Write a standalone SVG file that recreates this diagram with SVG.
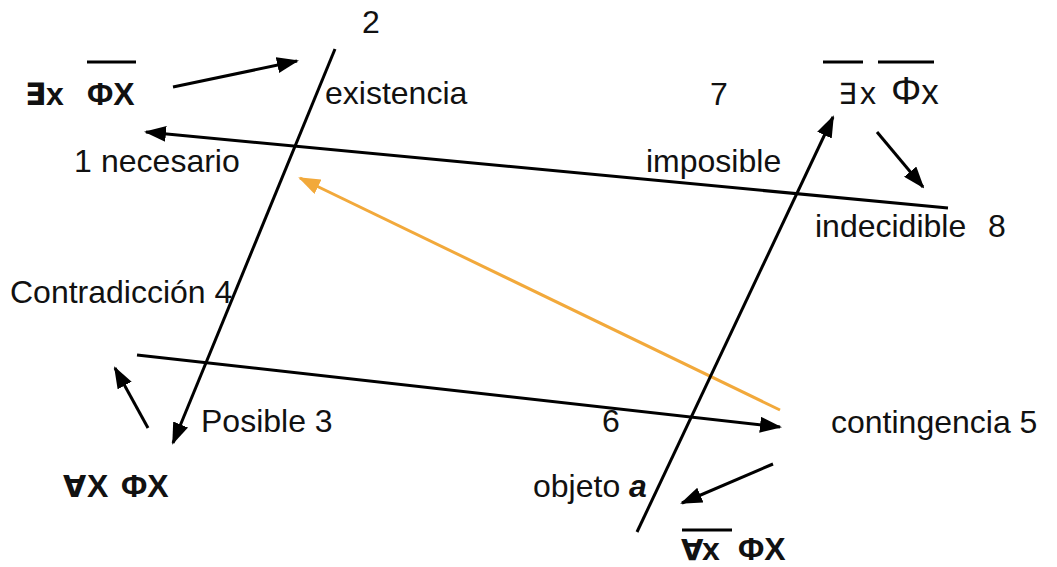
<svg xmlns="http://www.w3.org/2000/svg" width="1057" height="567" viewBox="0 0 1057 567">
<style>
text{font-family:"Liberation Sans",Arial,"DejaVu Sans",sans-serif;font-size:32px;fill:#111}
.b{font-weight:bold}
.ln{stroke:#000;stroke-width:3;fill:none}
.or{stroke:#F2A93B;stroke-width:3;fill:none}
.ov{stroke:#000;stroke-width:3}
</style>
<defs>
<marker id="ah" markerUnits="userSpaceOnUse" markerWidth="22" markerHeight="16" refX="20" refY="8" orient="auto">
<path d="M0,0 L22,8 L0,16 Z" fill="#000"/>
</marker>
<marker id="aho" markerUnits="userSpaceOnUse" markerWidth="22" markerHeight="16" refX="20" refY="8" orient="auto">
<path d="M0,0 L22,8 L0,16 Z" fill="#F2A93B"/>
</marker>
</defs>
<rect width="1057" height="567" fill="#fff"/>
<g id="connectors">
<line class="ln" x1="335" y1="49" x2="173" y2="443" marker-end="url(#ah)"/>
<line class="ln" x1="173" y1="87" x2="297" y2="61" marker-end="url(#ah)"/>
<line class="ln" x1="948" y1="208" x2="146" y2="132" marker-end="url(#ah)"/>
<line class="or" x1="780" y1="410" x2="300" y2="178" marker-end="url(#aho)"/>
<line class="ln" x1="137" y1="355" x2="780" y2="427" marker-end="url(#ah)"/>
<line class="ln" x1="637" y1="532" x2="833" y2="117" marker-end="url(#ah)"/>
<line class="ln" x1="877" y1="132" x2="923" y2="187" marker-end="url(#ah)"/>
<line class="ln" x1="148" y1="428" x2="115" y2="368" marker-end="url(#ah)"/>
<line class="ln" x1="773" y1="464" x2="682" y2="503" marker-end="url(#ah)"/>
</g>
<g id="n2"><text x="362" y="33">2</text></g>
<g id="f-exists-notphi">
<text class="b" y="105"><tspan x="25" font-family="DejaVu Sans, sans-serif" font-size="31">∃</tspan><tspan x="46">x</tspan><tspan x="87">ΦX</tspan></text>
<line class="ov" x1="87" y1="62" x2="136" y2="62"/>
</g>
<g id="existencia"><text x="325" y="104">existencia</text></g>
<g id="n7"><text x="710" y="105">7</text></g>
<g id="f-notexists-notphi">
<text y="104"><tspan x="838" font-family="DejaVu Sans, sans-serif" font-size="29">∃</tspan><tspan x="860">x</tspan><tspan x="891" font-size="38">Φ</tspan><tspan font-size="35">x</tspan></text>
<line class="ov" x1="823" y1="62" x2="863" y2="62"/>
<line class="ov" x1="878" y1="62" x2="934" y2="62"/>
</g>
<g id="necesario"><text y="172"><tspan x="74">1</tspan><tspan x="101">necesario</tspan></text></g>
<g id="imposible"><text x="646" y="172">imposible</text></g>
<g id="indecidible"><text y="237"><tspan x="815">indecidible</tspan><tspan x="988">8</tspan></text></g>
<g id="contradiccion"><text x="10" y="303">Contradicción 4</text></g>
<g id="posible"><text x="201" y="432">Posible 3</text></g>
<g id="n6"><text x="602" y="432">6</text></g>
<g id="contingencia"><text x="831" y="433" font-size="31">contingencia 5</text></g>
<g id="f-forall-phi">
<text class="b" y="497"><tspan x="63" font-family="DejaVu Sans, sans-serif" font-size="30">∀</tspan><tspan x="87">X</tspan><tspan x="121">ΦX</tspan></text>
</g>
<g id="objeto"><text x="533" y="497">objeto <tspan class="b" font-style="italic">a</tspan></text></g>
<g id="f-notforall-phi">
<text class="b" y="560"><tspan x="681" font-family="DejaVu Sans, sans-serif" font-size="29">∀</tspan><tspan x="702">x</tspan><tspan x="738">ΦX</tspan></text>
<line class="ov" x1="682" y1="530" x2="732" y2="530"/>
</g>
</svg>
